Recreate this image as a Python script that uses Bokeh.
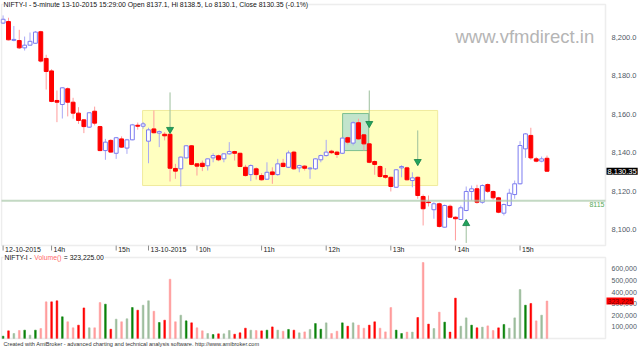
from bokeh.plotting import figure
from bokeh.models import Range1d, Label, ColumnDataSource, BoxAnnotation
from bokeh.core.properties import value
from bokeh.layouts import column
from bokeh.embed import file_html
from bokeh.resources import INLINE

# ---------------- data ----------------
title_text = "NIFTY-I - 5-minute 13-10-2015 15:29:00 Open 8137.1, Hi 8138.5, Lo 8130.1, Close 8130.35 (-0.1%)"
footer_text = "Created with AmiBroker - advanced charting and technical analysis software. http://www.amibroker.com"
watermark = "www.vfmdirect.in"
vol_title_parts = ["NIFTY-I - ", "Volume() ", "= 323,225.00"]

opens = [8207.5, 8208.3, 8198.5, 8198.4, 8194.6, 8196.0, 8197.0, 8203.0, 8189.1, 8182.6,
         8167.2, 8165.1, 8173.3, 8166.3, 8160.6, 8157.1, 8153.3, 8161.6, 8153.6, 8141.1,
         8146.4, 8139.7, 8147.2, 8142.4, 8146.7, 8154.3, 8153.8, 8146.0, 8152.4, 8150.2,
         8149.6, 8149.6, 8131.8, 8131.6, 8137.3, 8143.6, 8134.2, 8134.5, 8133.2, 8137.3,
         8138.4, 8136.8, 8139.4, 8140.6, 8139.7, 8132.4, 8128.6, 8131.6, 8128.1, 8126.2,
         8130.0, 8128.6, 8134.5, 8132.4, 8140.3, 8132.1, 8133.0, 8131.6, 8131.6, 8136.3,
         8138.5, 8140.8, 8140.3, 8139.7, 8147.8, 8145.0, 8155.6, 8149.3, 8144.6, 8135.4,
         8132.8, 8128.1, 8127.2, 8122.0, 8132.1, 8132.1, 8125.5, 8127.2, 8117.2, 8114.3,
         8110.3, 8113.4, 8101.2, 8112.1, 8106.4, 8105.2, 8109.9, 8119.8, 8121.2, 8114.2,
         8123.4, 8119.8, 8116.5, 8108.5, 8112.5, 8118.2, 8123.8, 8142.0, 8149.0, 8136.8,
         8135.6, 8137.1]
highs = [8211.5, 8210.3, 8206.0, 8204.0, 8200.5, 8202.6, 8203.4, 8203.5, 8191.0, 8183.5,
         8172.4, 8174.0, 8174.0, 8168.6, 8163.7, 8157.5, 8161.0, 8164.0, 8154.0, 8147.2,
         8147.0, 8148.2, 8148.5, 8147.2, 8155.0, 8155.7, 8156.0, 8153.0, 8162.0, 8151.6,
         8150.7, 8149.8, 8134.2, 8138.0, 8144.0, 8144.0, 8134.5, 8135.9, 8137.0, 8139.7,
         8139.0, 8139.7, 8145.5, 8141.0, 8140.0, 8133.7, 8133.9, 8132.4, 8129.3, 8135.0,
         8132.4, 8136.8, 8136.8, 8141.1, 8141.0, 8133.7, 8133.5, 8132.5, 8137.2, 8139.0,
         8146.7, 8141.5, 8141.0, 8148.0, 8148.4, 8156.4, 8157.7, 8149.8, 8145.0, 8136.0,
         8133.5, 8132.0, 8127.5, 8131.5, 8133.5, 8132.7, 8129.8, 8127.6, 8118.2, 8117.7,
         8114.2, 8114.0, 8113.0, 8113.0, 8106.8, 8112.5, 8122.4, 8122.9, 8123.3, 8123.5,
         8124.0, 8120.3, 8117.0, 8113.5, 8121.2, 8125.5, 8146.0, 8150.2, 8153.0, 8137.8,
         8138.0, 8138.5]
lows = [8207.0, 8198.5, 8198.0, 8194.0, 8193.2, 8195.8, 8196.8, 8187.0, 8172.9, 8166.3,
        8155.9, 8157.8, 8158.9, 8157.7, 8155.0, 8150.2, 8153.0, 8154.2, 8140.8, 8136.3,
        8140.0, 8136.8, 8142.5, 8139.4, 8146.5, 8152.0, 8152.5, 8134.5, 8150.0, 8142.9,
        8146.4, 8125.0, 8126.4, 8122.4, 8137.0, 8133.5, 8128.1, 8130.4, 8130.7, 8135.0,
        8135.6, 8135.0, 8139.0, 8135.9, 8132.5, 8127.6, 8125.2, 8126.0, 8125.5, 8125.8,
        8123.8, 8128.0, 8132.4, 8132.0, 8131.0, 8129.8, 8130.7, 8126.4, 8131.0, 8135.0,
        8138.0, 8139.3, 8137.3, 8139.3, 8144.3, 8143.8, 8146.7, 8141.1, 8134.5, 8128.5,
        8127.0, 8126.4, 8119.8, 8121.7, 8127.2, 8125.5, 8122.0, 8116.0, 8102.1, 8112.0,
        8105.6, 8101.0, 8100.9, 8106.0, 8094.3, 8105.0, 8109.5, 8115.1, 8113.4, 8113.4,
        8119.0, 8115.5, 8108.5, 8107.3, 8112.0, 8116.0, 8123.5, 8137.3, 8136.3, 8135.0,
        8135.0, 8130.1]
closes = [8209.5, 8198.8, 8199.0, 8194.6, 8196.0, 8198.0, 8202.8, 8187.7, 8182.3, 8166.7,
          8166.3, 8173.8, 8166.3, 8160.6, 8156.8, 8153.6, 8160.8, 8155.4, 8141.1, 8145.5,
          8140.3, 8147.8, 8142.9, 8146.7, 8154.5, 8153.8, 8155.0, 8151.9, 8150.4, 8151.0,
          8148.8, 8131.9, 8130.4, 8137.7, 8143.6, 8133.9, 8133.0, 8132.8, 8136.8, 8138.5,
          8136.3, 8139.4, 8140.6, 8139.7, 8132.8, 8128.1, 8133.3, 8128.6, 8125.9, 8129.8,
          8128.6, 8134.2, 8132.8, 8139.9, 8131.6, 8133.3, 8131.9, 8132.0, 8136.8, 8138.5,
          8140.3, 8140.0, 8139.1, 8147.6, 8145.5, 8155.6, 8147.2, 8144.6, 8135.0, 8133.9,
          8127.6, 8127.2, 8122.4, 8131.1, 8132.8, 8125.9, 8126.9, 8117.7, 8110.8, 8114.0,
          8113.4, 8101.6, 8112.5, 8106.4, 8105.6, 8111.3, 8119.8, 8121.2, 8114.2, 8122.9,
          8119.9, 8116.5, 8109.0, 8113.0, 8118.9, 8123.8, 8143.75, 8149.8, 8137.3, 8135.6,
          8136.8, 8130.35]
volumes = [20000, 66000, 43000, 69000, 72000, 29000, 72000, 86000, 316000, 316000,
           325000, 187000, 144000, 92000, 115000, 264000, 92000, 92000, 310000, 296000,
           80000, 167000, 144000, 170000, 267000, 244000, 287000, 325000, 235000, 138000,
           158000, 511000, 144000, 201000, 152000, 135000, 92000, 66000, 43000, 34000,
           40000, 40000, 69000, 37000, 49000, 89000, 72000, 69000, 66000, 72000,
           100000, 72000, 63000, 78000, 72000, 49000, 57000, 78000, 129000, 80000,
           135000, 43000, 63000, 135000, 106000, 135000, 115000, 89000, 115000, 144000,
           89000, 57000, 267000, 72000, 43000, 55000, 55000, 181000, 655000, 124000,
           86000, 227000, 141000, 55000, 348000, 106000, 178000, 115000, 92000, 98000,
           109000, 69000, 92000, 121000, 89000, 178000, 422000, 287000, 302000, 152000,
           201000, 323225]
# G dark green, g light green, R red, r light red
vol_tone = list("GRgrGgGrrR" "RGrrRRgrrG" "RgrgGRggrG" "RrrgGRrrgG" "RggRRRgrRG"
                "RgrGRgrgGG" "grrGRgrrRR" "rrrGGrgRrR" "grGRRggGRg" "rrRGgggGRr" "gr")

tick_idx = [0, 9, 21, 27, 36, 48, 60, 72, 84, 96]
tick_labels = ["12-10-2015", "14h", "15h", "13-10-2015", "10h", "11h", "12h", "13h", "14h", "15h"]
price_ticks = [8100, 8120, 8140, 8160, 8180, 8200]
vol_ticks = [100000, 200000, 300000, 400000, 500000, 600000]

zone_x = [25.9, 80.7]
zone_y = [8122.9, 8162.0]
box_x = [63.05, 67.9]
box_y = [8141.1, 8160.4]
down_arrow_x = [31, 68, 77]
down_arrow_from = [8171.4, 8172.4, 8151.6]
down_arrow_to = [8150.0, 8153.1, 8133.3]
up_arrow_x = [86]
up_arrow_from = [8093.0]
up_arrow_to = [8105.2]
support_level = 8115
watermark_pos = (84.0, 8200.5)

# ---------------- layout (pixel geometry of the AmiBroker panes) ----------------
FONT = "Liberation Sans"
W = 640
H_P, H_V = 253, 95
BAR0_PX, PX_PER_BAR = 2.6, 5.385
PANE_L, PANE_R = 1, 605
P_TOP, P_BOT = 4, 245          # price pane, px in price canvas
P_REF_PX, P_REF, P_SCALE = 229, 8100, 1.92
V_TOP, V_BOT, V_SCALE = 4, 85, 11.6 / 100000   # volume pane, px in volume canvas


def px_x(px):
    return (px - BAR0_PX) / PX_PER_BAR


def py_price(py):
    return P_REF + (P_REF_PX - py) / P_SCALE


def py_vol(py):
    return (V_BOT - py) / V_SCALE


x_range = Range1d(px_x(0), px_x(W))
n = len(opens)
xs = list(range(n))
up = [c >= o for o, c in zip(opens, closes)]
src = ColumnDataSource(dict(
    x=xs,
    top=[max(o, c) for o, c in zip(opens, closes)],
    bottom=[min(o, c) for o, c in zip(opens, closes)],
    high=highs, low=lows,
    fill=["white" if u else "#ff0000" for u in up],
    line=["#7b7bf0" if u else "#ff0000" for u in up],
    wick=["#a9a9f5" if u else "#ff9c9c" for u in up],
))


def base_fig(h, yr):
    f = figure(width=W, height=h, x_range=x_range, y_range=yr, output_backend="svg",
               toolbar_location=None, x_axis_location=None, y_axis_location=None,
               min_border=0, min_border_left=0, min_border_right=0,
               min_border_top=0, min_border_bottom=0)
    f.xgrid.visible = False
    f.ygrid.visible = False
    f.outline_line_color = None
    f.background_fill_color = "white"
    f.border_fill_color = "white"
    return f


def txt(f, x, y, text, size, color, align="left", baseline="middle", x_offset=0, y_offset=0):
    f.text(x=x, y=y, text=text, text_font=value(FONT), text_font_size=value(size),
           text_color=color, text_align=align, text_baseline=baseline,
           x_offset=x_offset, y_offset=y_offset)


# ---------------- price pane ----------------
p = base_fig(H_P, Range1d(py_price(H_P), py_price(0)))

p.quad(left=[zone_x[0]], right=[zone_x[1]], bottom=[zone_y[0]], top=[zone_y[1]],
       fill_color="#ffffc0", line_color="#f0eb9c", line_width=1)
p.quad(left=[box_x[0]], right=[box_x[1]], bottom=[box_y[0]], top=[box_y[1]],
       fill_color="#c2e4cc", line_color="#7cbf90", line_width=1)

txt(p, [watermark_pos[0]], [watermark_pos[1]], [watermark], "18.5px", "#b5b5b5")

p.segment(x0="x", y0="low", x1="x", y1="high", source=src, line_color="wick", line_width=1)
p.vbar(x="x", top="top", bottom="bottom", width=0.72, source=src,
       fill_color="fill", line_color="line", line_width=1)

# support line
p.segment(x0=[px_x(PANE_L)], x1=[px_x(PANE_R)], y0=[support_level], y1=[support_level],
          line_color="#a9c9a9", line_width=2, line_alpha=0.7)
txt(p, [px_x(PANE_R - 1)], [support_level], [str(support_level)], "7px", "#58aa58",
    align="right", baseline="top", y_offset=1)

# arrows
HEAD = 7
head_off = (HEAD / 2 * 1.732 * 2 / 3) / P_SCALE
p.segment(x0=down_arrow_x, y0=down_arrow_from, x1=down_arrow_x, y1=down_arrow_to,
          line_color="#9dbf9d", line_width=1)
p.scatter(x=down_arrow_x, y=[t + head_off for t in down_arrow_to], marker="inverted_triangle",
          size=HEAD, fill_color="#22a35c", line_color="#138048", line_width=0.8)
p.segment(x0=up_arrow_x, y0=up_arrow_from, x1=up_arrow_x, y1=up_arrow_to,
          line_color="#9dbf9d", line_width=1)
p.scatter(x=up_arrow_x, y=[t - head_off for t in up_arrow_to], marker="triangle",
          size=HEAD, fill_color="#22a35c", line_color="#138048", line_width=0.8)

# pane border
p.add_layout(BoxAnnotation(left=px_x(PANE_L), right=px_x(PANE_R), top=py_price(P_TOP),
                           bottom=py_price(P_BOT), fill_alpha=0, line_color="#c4c4c4",
                           line_width=1.5, level="overlay"))

# price axis (right)
txt(p, [px_x(611)] * len(price_ticks), price_ticks, [f"{t:,.1f}" for t in price_ticks],
    "7.5px", "#4f5a66")
p.add_layout(Label(x=px_x(606), y=closes[-1], text=f"{closes[-1]:,.2f}", text_font=FONT,
                   text_font_size="7.5px", text_baseline="middle", text_color="white",
                   background_fill_color="black", padding=1, level="overlay"))

# time axis
p.segment(x0=tick_idx, x1=tick_idx, y0=[py_price(P_BOT)] * len(tick_idx),
          y1=[py_price(P_BOT + 5)] * len(tick_idx), line_color="#8c8c8c", line_width=1)
txt(p, tick_idx, [py_price(P_BOT + 3.5)] * len(tick_idx), tick_labels, "7px", "#222222",
    x_offset=2)

p.add_layout(Label(x=px_x(3), y=py_price(P_TOP + 0.3), text=title_text, text_font=FONT,
                   text_font_size="6.9px", text_baseline="middle", text_color="#111111",
                   background_fill_color="white", level="overlay"))

# ---------------- volume pane ----------------
tone_color = {"G": "#0a820a", "g": "#9dbd9d", "R": "#ff0000", "r": "#ff9c9c"}
vsrc = ColumnDataSource(dict(x=xs, v=volumes, c=[tone_color[t] for t in vol_tone]))

v = base_fig(H_V, Range1d(py_vol(H_V), py_vol(0)))
v.vbar(x="x", top="v", bottom=0, width=0.32, source=vsrc, fill_color="c", line_color="c",
       line_width=0.5)
v.add_layout(BoxAnnotation(left=px_x(PANE_L), right=px_x(PANE_R), top=py_vol(V_TOP),
                           bottom=py_vol(V_BOT), fill_alpha=0, line_color="#c4c4c4",
                           line_width=1.5, level="overlay"))
txt(v, [px_x(611)] * len(vol_ticks), vol_ticks, [f"{t:,}" for t in vol_ticks], "7px", "#4f5a66")
v.add_layout(Label(x=px_x(606), y=volumes[-1], text=f"{volumes[-1]:,}", text_font=FONT,
                   text_font_size="7px", text_baseline="middle", text_color="#7a0000",
                   background_fill_color="#ff0000", padding=1, level="overlay"))

# volume title in three colours (Arial-metric widths at 6.8px)
AW = {"N": .722, "I": .278, "F": .611, "T": .611, "Y": .667, "-": .333, " ": .278,
      "V": .667, "o": .556, "l": .222, "u": .556, "m": .833, "e": .556, "(": .333, ")": .333}
VT_SIZE = 6.8
vt_x = 3.0
for part, col in zip(vol_title_parts, ["#111111", "#ff6b6b", "#111111"]):
    v.add_layout(Label(x=px_x(vt_x), y=py_vol(V_TOP + 0.3), text=part.strip(), text_font=FONT,
                       text_font_size=f"{VT_SIZE}px", text_baseline="middle", text_color=col,
                       background_fill_color="white", padding=1, level="overlay"))
    vt_x += sum(AW.get(ch, 0.556) for ch in part) * VT_SIZE

txt(v, [px_x(3)], [py_vol(V_BOT + 5.5)], [footer_text], "5.6px", "#333333")

layout = column(p, v, spacing=0)
open("out.html", "w").write(file_html(layout, INLINE))
